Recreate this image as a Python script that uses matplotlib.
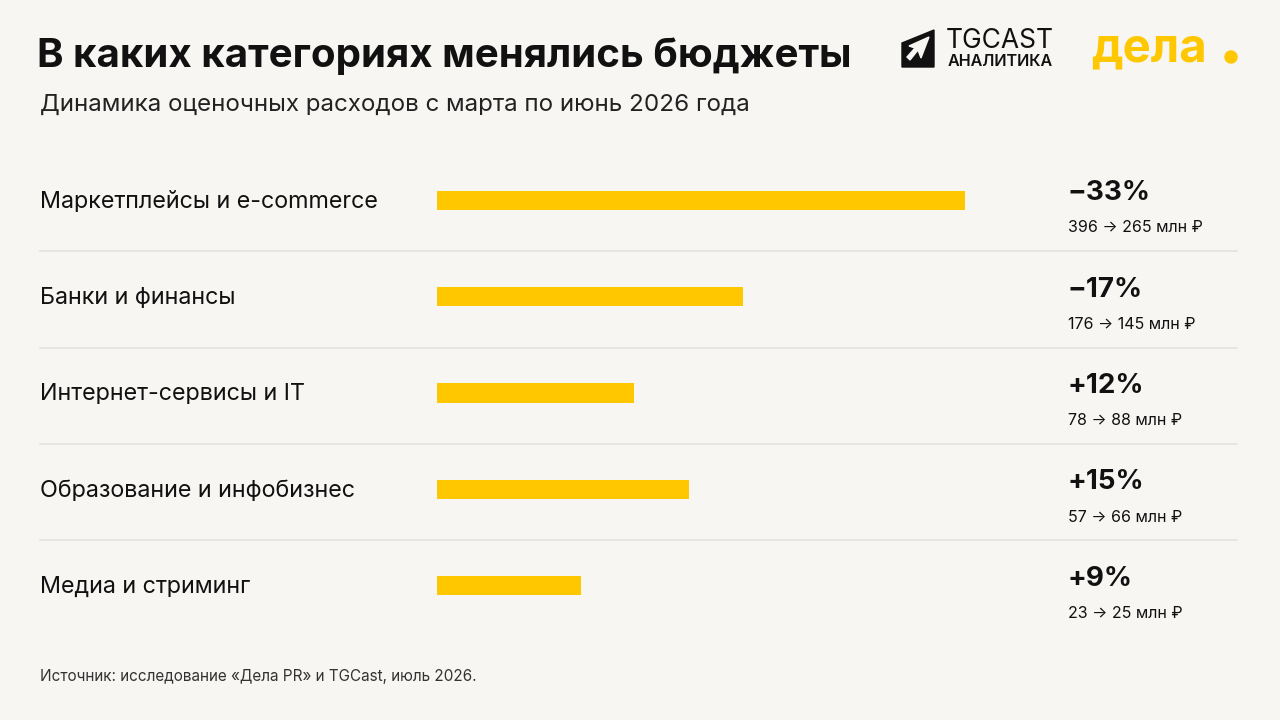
import matplotlib.pyplot as plt
from matplotlib.patches import Polygon, Ellipse
from matplotlib.transforms import blended_transform_factory

plt.rcParams['font.family'] = ['Inter', 'DejaVu Sans']

categories = ['Маркетплейсы и e-commerce', 'Банки и финансы', 'Интернет-сервисы и IT',
              'Образование и инфобизнес', 'Медиа и стриминг']
pct_labels = ['−33%', '−17%', '+12%', '+15%', '+9%']
march = [396, 176, 78, 57, 23]
june = [265, 145, 88, 66, 25]
# bar lengths
bar_len = [33.0, 19.1, 12.3, 15.75, 9.0]

BG = '#f7f6f3'
YELLOW = '#ffc700'
DARK = '#111111'
GRID = '#e3e2de'

W, H = 1280, 720
fig = plt.figure(figsize=(12.8, 7.2), dpi=100, facecolor=BG)


def fx(px):
    return px / W


def fy(py):
    return 1 - py / H


# bar axes: x from 437px to 1237px, rows from 152px to 634px
ax = fig.add_axes([fx(437), fy(634), fx(800), (634 - 152) / H])
ax.set_facecolor('none')
ax.barh(range(len(categories)), bar_len, height=0.2, color=YELLOW)
ax.set_xlim(0, 50)
ax.set_ylim(4.5, -0.5)
ax.axis('off')

for i in range(len(categories) - 1):
    ax.axhline(i + 0.53, xmin=(40 - 437) / 800, xmax=1.0, color=GRID, lw=1.2, clip_on=False)

tr = blended_transform_factory(fig.transFigure, ax.transData)
for i, cat in enumerate(categories):
    ax.annotate(cat, xy=(fx(40), i), xycoords=tr, xytext=(0, -1), textcoords='offset points',
                ha='left', va='center', fontsize=16.8, color=DARK)
    ax.annotate(pct_labels[i], xy=(fx(1067), i), xycoords=tr, xytext=(0, 5),
                textcoords='offset points', ha='left', va='center',
                fontsize=20, fontweight='bold', color=DARK)
    ax.annotate(f'{march[i]} → {june[i]} млн ₽', xy=(fx(1068), i), xycoords=tr,
                xytext=(0, -20), textcoords='offset points', ha='left', va='center',
                fontsize=11.5, color=DARK)

# titles
fig.text(fx(37), fy(56), 'В каких категориях менялись бюджеты', ha='left', va='center',
         fontsize=29, fontweight='bold', color=DARK)
fig.text(fx(40), fy(105), 'Динамика оценочных расходов с марта по июнь 2026 года',
         ha='left', va='center', fontsize=17.4, color='#222222')
fig.text(fx(40), fy(677), 'Источник: исследование «Дела PR» и TGCast, июль 2026.',
         ha='left', va='center', fontsize=11, color='#333333')

# TGCAST logo
icon = Polygon([(fx(902), fy(43)), (fx(934), fy(30)), (fx(934), fy(67)), (fx(902), fy(67))],
               closed=True, transform=fig.transFigure, color=DARK)
arrow = Polygon([(fx(909), fy(46)), (fx(929), fy(37)), (fx(921), fy(58)), (fx(918), fy(50)),
                 (fx(910), fy(60)), (fx(907), fy(57)), (fx(915), fy(48))],
                closed=True, transform=fig.transFigure, color=BG)
fig.patches.extend([icon, arrow])
fig.text(fx(946), fy(41), 'TGCAST', ha='left', va='center', fontsize=19, color=DARK)
fig.text(fx(948), fy(62), 'АНАЛИТИКА', ha='left', va='center', fontsize=11.6,
         fontweight='semibold', color=DARK)

# Дела logo
fig.text(fx(1091), fy(49), 'дела', ha='left', va='center', fontsize=34,
         fontweight='bold', color=YELLOW)
fig.patches.append(Ellipse((fx(1231), fy(57)), 12 / W, 12 / H, transform=fig.transFigure,
                           color=YELLOW))

fig.savefig('out.png', dpi=100, facecolor=BG)
